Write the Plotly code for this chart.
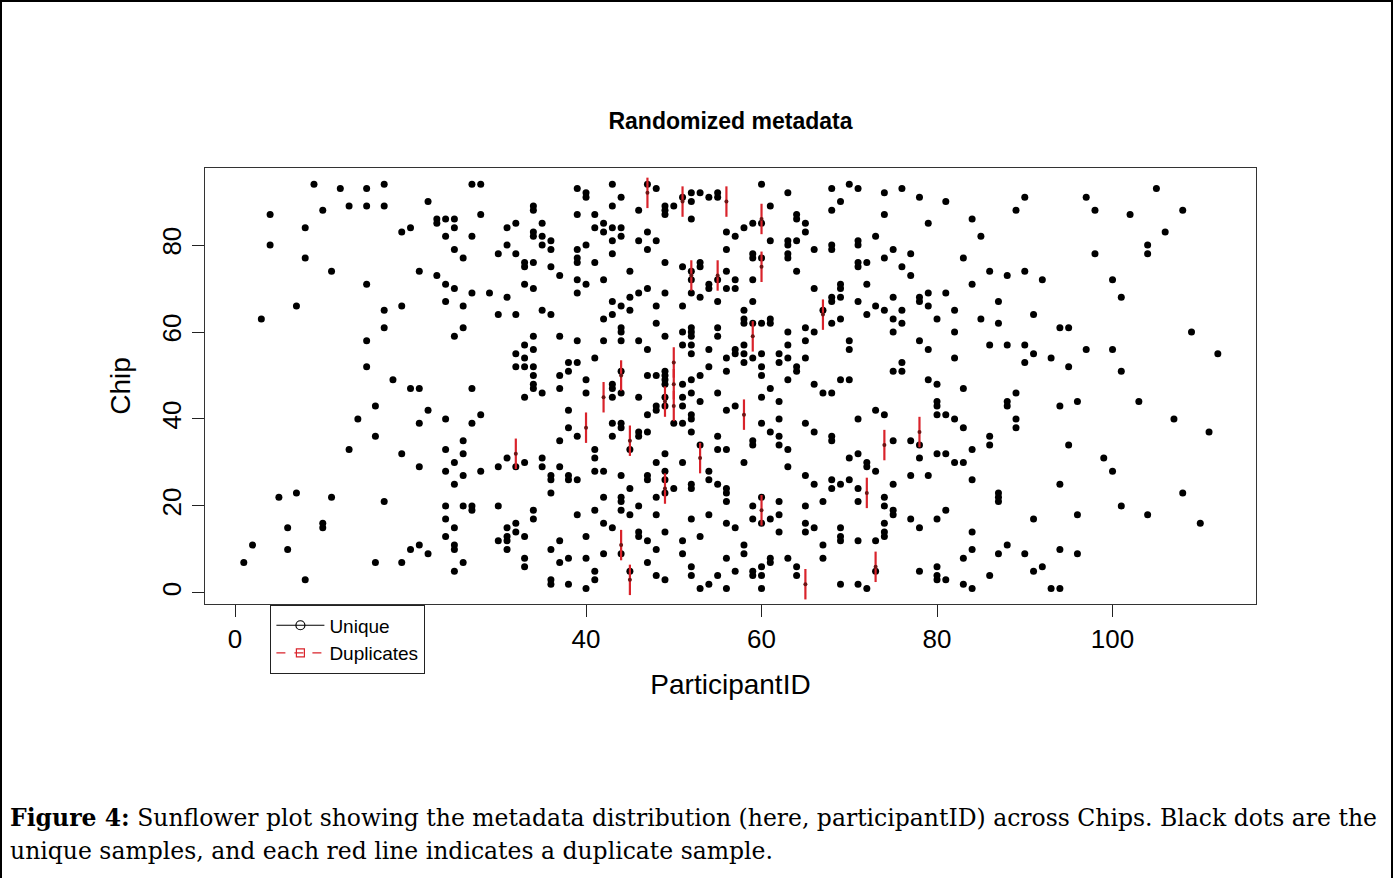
import plotly.graph_objects as go

# ---------------- data ----------------
unique_participant = [
    1, 2, 3, 4, 4, 5, 6, 6, 7, 7, 8, 8, 8, 9, 10, 10, 10, 11, 11, 12, 13, 13, 14,
    15, 15, 15, 15, 15,
    16, 16, 16,
    17, 17, 17, 17, 17,
    18,
    19, 19, 19, 19,
    20, 20, 20,
    21, 21, 21, 21, 21,
    22, 22, 22,
    23, 23, 23,
    24, 24, 24, 24, 24, 24, 24, 24, 24, 24,
    25, 25, 25, 25, 25, 25, 25, 25, 25, 25, 25,
    26, 26, 26, 26, 26, 26, 26, 26,
    27, 27, 27, 27, 27, 27, 27,
    28, 28, 28, 28,
    29,
    30, 30, 30, 30, 30,
    31, 31, 31, 31, 31, 31, 31, 31,
    32, 32, 32, 32, 32, 32, 32, 32,
    33, 33, 33, 33, 33, 33, 33, 33, 33, 33, 33,
    34, 34, 34, 34, 34, 34, 34, 34, 34, 34, 34, 34, 34, 34,
    35, 35, 35, 35, 35, 35, 35,
    36, 36, 36, 36, 36, 36, 36, 36, 36, 36,
    37, 37, 37, 37, 37, 37, 37, 37,
    38, 38, 38, 38, 38, 38, 38, 38,
    39, 39, 39, 39, 39, 39, 39, 39, 39, 39, 39, 39,
    40, 40, 40, 40, 40, 40, 40, 40, 40,
    41, 41, 41, 41, 41, 41, 41, 41, 41, 41,
    42, 42, 42, 42, 42, 42, 42, 42, 42,
    43, 43, 43, 43, 43, 43, 43, 43, 43, 43, 43, 43, 43,
    44, 44, 44, 44, 44, 44, 44, 44, 44, 44, 44, 44, 44, 44, 44, 44,
    45, 45, 45, 45, 45, 45, 45,
    46, 46, 46, 46, 46, 46, 46, 46, 46, 46,
    47, 47, 47, 47, 47, 47, 47, 47, 47, 47, 47, 47,
    48, 48, 48, 48, 48, 48, 48, 48, 48, 48, 48, 48,
    49, 49, 49, 49, 49, 49, 49, 49, 49, 49, 49, 49, 49, 49, 49, 49, 49, 49,
    50, 50, 50,
    51, 51, 51, 51, 51, 51, 51, 51, 51, 51, 51, 51,
    52, 52, 52, 52, 52, 52, 52, 52, 52, 52, 52, 52, 52, 52, 52, 52, 52, 52, 52, 52, 52,
    53, 53, 53, 53, 53, 53, 53, 53, 53,
    54, 54, 54, 54, 54, 54, 54, 54, 54,
    55, 55, 55, 55, 55, 55, 55, 55, 55, 55, 55,
    56, 56, 56, 56, 56, 56, 56, 56, 56, 56, 56, 56, 56, 56,
    57, 57, 57, 57, 57, 57, 57, 57,
    58, 58, 58, 58, 58, 58, 58, 58, 58, 58,
    59, 59, 59, 59, 59, 59, 59, 59, 59, 59, 59, 59, 59,
    60, 60, 60, 60, 60, 60, 60, 60, 60, 60, 60, 60, 60, 60,
    61, 61, 61, 61, 61, 61, 61, 61, 61,
    62, 62, 62, 62, 62, 62, 62, 62, 62,
    63, 63, 63, 63, 63, 63, 63, 63, 63, 63, 63, 63,
    64, 64, 64, 64, 64, 64, 64, 64,
    65, 65, 65, 65, 65, 65, 65, 65, 65, 65,
    66, 66, 66, 66, 66, 66, 66,
    67, 67, 67, 67, 67,
    68, 68, 68, 68, 68, 68, 68, 68, 68, 68, 68, 68,
    69, 69, 69, 69, 69, 69, 69, 69, 69, 69, 69,
    70, 70, 70, 70, 70, 70,
    71, 71, 71, 71, 71, 71, 71, 71, 71, 71, 71, 71,
    72, 72, 72, 72, 72, 72,
    73, 73, 73, 73, 73, 73,
    74, 74, 74, 74, 74, 74, 74, 74, 74, 74,
    75, 75, 75, 75, 75, 75, 75, 75, 75,
    76, 76, 76, 76, 76, 76,
    77, 77, 77, 77, 77,
    78, 78, 78, 78, 78, 78, 78, 78,
    79, 79, 79, 79, 79, 79,
    80, 80, 80, 80, 80, 80, 80, 80, 80, 80,
    81, 81, 81, 81, 81, 81,
    82, 82, 82, 82, 82,
    83, 83, 83, 83, 83, 83,
    84, 84, 84, 84, 84, 84, 84,
    85, 85,
    86, 86, 86, 86, 86,
    87, 87, 87, 87, 87, 87,
    88, 88, 88, 88, 88,
    89, 89, 89, 89,
    90, 90, 90, 90, 90,
    91, 91, 91, 91,
    92, 92,
    93, 93,
    94, 94, 94, 94, 94,
    95, 95, 95,
    96, 96, 96,
    97, 97,
    98, 98,
    99,
    100, 100, 100,
    101, 101, 101,
    102, 103,
    104, 104, 104,
    105, 106, 107,
    108, 108,
    109, 110, 111, 112,
]

unique_chip = [
    7, 11, 63, 87, 80, 22, 15, 10, 66, 23, 84, 77, 3, 94, 88, 16, 15, 74, 22, 93, 89, 33, 40,
    93, 89, 71, 58, 52,
    43, 36, 7,
    94, 89, 65, 61, 21,
    49,
    83, 66, 32, 7,
    84, 47, 10,
    74, 47, 39, 29, 11,
    90, 42, 9,
    86, 85, 73,
    86, 82, 71, 67, 40, 33, 28, 20, 17, 13,
    86, 84, 79, 70, 59, 30, 25, 15, 11, 10, 5,
    77, 66, 61, 35, 32, 27, 20, 7,
    94, 82, 69, 47, 39, 20, 19,
    94, 87, 41, 28,
    69,
    78, 64, 29, 20, 12,
    84, 80, 68, 31, 15, 13, 12, 10,
    85, 78, 64, 55, 52, 29, 16, 14,
    76, 75, 71, 57, 54, 52, 45, 30, 13, 8, 6,
    89, 88, 83, 82, 76, 70, 59, 56, 52, 50, 48, 47, 19, 17,
    85, 82, 80, 65, 46, 31, 29,
    81, 79, 75, 64, 27, 26, 23, 10, 3, 2,
    73, 59, 50, 47, 35, 29, 12, 7,
    53, 51, 42, 38, 27, 26, 8, 2,
    93, 87, 79, 77, 76, 72, 69, 58, 53, 36, 26, 18,
    92, 91, 80, 71, 49, 46, 13, 8, 1,
    87, 84, 76, 54, 33, 31, 28, 19, 5, 3,
    85, 83, 72, 63, 58, 28, 22, 16, 9,
    94, 89, 84, 81, 78, 67, 64, 48, 47, 45, 39, 36, 15,
    91, 84, 82, 66, 61, 60, 58, 51, 46, 39, 38, 27, 22, 21, 19, 9,
    74, 68, 65, 33, 24, 18, 5,
    88, 81, 69, 58, 45, 37, 36, 20, 14, 13,
    94, 83, 79, 70, 56, 50, 41, 37, 27, 26, 12, 7,
    93, 81, 66, 62, 50, 43, 42, 30, 22, 18, 10, 4,
    89, 88, 87, 76, 69, 59, 51, 50, 49, 48, 45, 43, 32, 28, 26, 23, 14, 3,
    89, 39, 24,
    91, 75, 66, 60, 57, 48, 45, 43, 39, 30, 12, 9,
    92, 90, 86, 74, 72, 69, 61, 60, 59, 57, 55, 49, 46, 41, 40, 37, 25, 24, 17, 6, 4,
    92, 76, 75, 68, 50, 44, 34, 13, 1,
    91, 71, 70, 56, 52, 28, 26, 18, 2,
    92, 91, 72, 67, 61, 59, 46, 36, 33, 25, 4,
    83, 79, 74, 70, 54, 51, 42, 33, 24, 23, 21, 16, 8, 1,
    82, 72, 70, 56, 55, 43, 15, 5,
    84, 65, 63, 62, 57, 55, 53, 30, 11, 9,
    85, 78, 77, 72, 67, 62, 54, 35, 34, 20, 17, 5, 4,
    94, 85, 77, 62, 55, 52, 50, 45, 39, 22, 16, 6, 4, 1,
    89, 81, 63, 62, 47, 37, 17, 8, 7,
    55, 53, 44, 40, 36, 34, 21, 18, 14,
    92, 81, 80, 78, 77, 60, 57, 54, 49, 33, 29, 8,
    87, 86, 81, 74, 52, 51, 6, 4,
    85, 83, 61, 58, 54, 39, 27, 20, 16, 14,
    79, 70, 60, 48, 37, 25, 15,
    65, 46, 21, 11, 8,
    93, 88, 80, 79, 68, 67, 62, 46, 36, 35, 26, 24,
    90, 71, 70, 68, 63, 49, 25, 15, 13, 12, 2,
    94, 58, 56, 49, 31, 26,
    93, 81, 80, 76, 75, 67, 40, 32, 24, 21, 12, 2,
    76, 71, 64, 30, 29, 1,
    82, 66, 42, 28, 12, 5,
    92, 87, 77, 65, 41, 22, 20, 16, 14, 13,
    79, 68, 63, 60, 51, 35, 25, 19, 18,
    93, 75, 65, 62, 53, 51,
    78, 73, 35, 27, 17,
    91, 68, 67, 58, 34, 31, 15, 5,
    85, 69, 66, 56, 49, 27,
    63, 48, 44, 43, 41, 32, 17, 6, 4, 3,
    90, 69, 41, 32, 19, 3,
    65, 60, 54, 40, 30,
    77, 47, 38, 30, 8, 2,
    86, 71, 33, 26, 14, 10, 1,
    82, 63,
    74, 57, 36, 34, 4,
    67, 62, 23, 22, 21, 9,
    73, 57, 44, 43, 11,
    88, 46, 40, 38,
    91, 74, 57, 53, 9,
    64, 55, 17, 5,
    72, 6,
    54, 1,
    61, 43, 25, 10, 1,
    61, 52, 34,
    44, 18, 9,
    91, 56,
    88, 78,
    31,
    72, 56, 28,
    68, 51, 20,
    87, 44,
    80, 78, 18,
    93, 83, 40,
    88, 23,
    60, 16, 37, 55,
]

dup_participant = [47, 51, 56, 60, 60, 52, 55, 67, 59, 50, 50, 50, 44, 42, 49,
                   40, 45, 32, 53, 49, 44, 45, 58, 74, 78, 72, 60, 65, 73]
dup_chip = [92, 90, 90, 86, 75, 73, 73, 64, 59, 53, 48, 43, 50, 45, 44,
            38, 35, 32, 31, 24, 11, 3, 41, 34, 37, 23, 19, 2, 6]

x_ticks = [0, 20, 40, 60, 80, 100]
y_ticks = [0, 20, 40, 60, 80]

assert len(unique_participant) == len(unique_chip), (len(unique_participant), len(unique_chip))
assert len(dup_participant) == len(dup_chip)

# ---------------- layout helpers (pixel -> paper) ----------------
W, H = 1394, 878
L, R, T, B = 205, 1256, 168, 604


def px_x(px):
    return (px - L) / (R - L)


def px_y(py):
    return (B - py) / (B - T)


FONT = "Liberation Sans, Arial, Helvetica, sans-serif"
RED = "#d9232b"

fig = go.Figure()

fig.add_trace(go.Scatter(
    x=unique_participant, y=unique_chip, mode="markers",
    marker=dict(color="black", size=7, line=dict(width=0)),
    showlegend=False, hoverinfo="x+y",
))

fig.add_trace(go.Scatter(
    x=dup_participant, y=dup_chip, mode="markers",
    marker=dict(color="#6e1414", size=4, line=dict(width=0)),
    error_y=dict(type="constant", value=3.5, symmetric=True, color=RED,
                 thickness=2.2, width=0),
    showlegend=False, hoverinfo="x+y",
))

# legend-only entries
fig.add_trace(go.Scatter(
    x=[None], y=[None], mode="lines+markers", name="Unique",
    line=dict(color="black", width=1.2),
    marker=dict(symbol="circle-open", size=9, color="black", line=dict(width=1.2)),
))
fig.add_trace(go.Scatter(
    x=[None], y=[None], mode="lines+markers", name="Duplicates",
    line=dict(color=RED, width=1.2, dash="dash"),
    marker=dict(symbol="square-open", size=8, color=RED, line=dict(width=1.2)),
))

fig.update_layout(
    width=W, height=H,
    margin=dict(l=L, r=W - R, t=T, b=H - B, pad=0),
    paper_bgcolor="white", plot_bgcolor="white",
    font=dict(family=FONT, color="black"),
    title=dict(text="<b>Randomized metadata</b>", font=dict(size=23, family=FONT),
               x=0.5, xref="paper", xanchor="center",
               y=1 - 121 / H, yref="container", yanchor="middle"),
    xaxis=dict(range=[-3.42, 116.35], tickvals=x_ticks, ticks="outside", ticklen=12,
               tickwidth=1.4, tickcolor="#222", showline=True, mirror=True,
               linecolor="#333", linewidth=1.4, showgrid=False, zeroline=False,
               tickfont=dict(size=26, family=FONT),
               title=dict(text="ParticipantID", font=dict(size=28, family=FONT), standoff=20)),
    yaxis=dict(range=[-2.55, 97.72], tickvals=y_ticks, ticks="outside", ticklen=12,
               tickwidth=1.4, tickcolor="#222", showline=True, mirror=True,
               linecolor="#333", linewidth=1.4, showgrid=False, zeroline=False,
               tickangle=-90, tickfont=dict(size=26, family=FONT),
               title=dict(text="Chip", font=dict(size=28, family=FONT), standoff=18)),
    legend=dict(x=px_x(270), y=px_y(605), xanchor="left", yanchor="top",
                bgcolor="white", bordercolor="#222", borderwidth=1.4,
                font=dict(size=19, family=FONT), itemwidth=48,
                tracegroupgap=0),
    showlegend=True,
)

# outer frame of the figure panel
fig.add_shape(type="rect", xref="paper", yref="paper",
              x0=px_x(1), x1=px_x(1392), y0=px_y(920), y1=px_y(1),
              line=dict(color="black", width=2), fillcolor="rgba(0,0,0,0)", layer="above")

CAP_FONT = "DejaVu Serif, Georgia, serif"
fig.add_annotation(
    xref="paper", yref="paper", x=px_x(8), y=px_y(818), xanchor="left", yanchor="middle",
    showarrow=False, align="left",
    text="<b>Figure 4:</b> Sunflower plot showing the metadata distribution (here, participantID) across Chips. Black dots are the",
    font=dict(size=23.5, family=CAP_FONT, color="black"),
)
fig.add_annotation(
    xref="paper", yref="paper", x=px_x(8), y=px_y(851), xanchor="left", yanchor="middle",
    showarrow=False, align="left",
    text="unique samples, and each red line indicates a duplicate sample.",
    font=dict(size=23.5, family=CAP_FONT, color="black"),
)

fig.write_html("out.html", post_script="document.body.style.margin='0';",
               config={"displayModeBar": False})
